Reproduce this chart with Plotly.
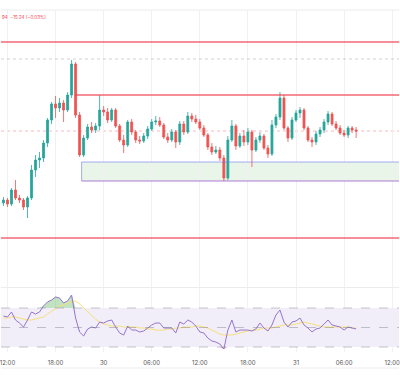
import numpy as np
import pandas as pd
import plotly.graph_objects as go

# ---------------- data ----------------
candle_start = "2024-01-29 11:30"
candle_step = "30min"

opens = [50460, 50490, 50450, 50590, 50510, 50490, 50420, 50510, 50790, 50890, 50910, 51060, 51290, 51450, 51410,
         51460, 51390, 51540, 51850, 51340, 50940, 51110, 51220, 51190, 51230, 51390, 51370, 51290, 51390, 51230,
         51090, 51040, 51270, 51170, 51090, 51080, 51130, 51200, 51270, 51280, 51240, 51120, 51090, 51170, 51070,
         51250, 51170, 51330, 51300, 51270, 51210, 51140, 51020, 50970, 50990, 50910, 50710, 51090, 51230, 51030,
         51130, 51070, 51170, 50990, 51090, 51130, 51010, 50950, 51240, 51320, 51510, 51210, 51110, 51290, 51360,
         51390, 51210, 51090, 51070, 51150, 51190, 51270, 51350, 51250, 51210, 51160, 51140, 51210, 51190]
closes = [50490, 50450, 50590, 50510, 50490, 50420, 50510, 50790, 50890, 50910, 51060, 51290, 51450, 51410, 51460,
          51390, 51540, 51850, 51340, 50940, 51110, 51220, 51190, 51230, 51390, 51370, 51290, 51390, 51230, 51090,
          51040, 51270, 51170, 51090, 51080, 51130, 51200, 51270, 51280, 51240, 51120, 51090, 51170, 51070, 51250,
          51170, 51330, 51300, 51270, 51210, 51140, 51020, 50970, 50990, 50910, 50710, 51090, 51230, 51030, 51130,
          51070, 51170, 50990, 51090, 51130, 51010, 50950, 51240, 51320, 51510, 51210, 51110, 51290, 51360, 51390,
          51210, 51090, 51070, 51150, 51190, 51270, 51350, 51250, 51210, 51160, 51140, 51210, 51190, 51180]
highs = [50520, 50510, 50610, 50690, 50540, 50510, 50530, 50840, 50940, 50970, 51090, 51310, 51470, 51530, 51510,
         51490, 51570, 51890, 51870, 51370, 51140, 51250, 51270, 51260, 51540, 51430, 51410, 51410, 51410, 51250,
         51140, 51290, 51300, 51190, 51130, 51160, 51230, 51300, 51330, 51320, 51260, 51160, 51200, 51190, 51280,
         51280, 51370, 51360, 51340, 51300, 51240, 51160, 51060, 51030, 51020, 50940, 51130, 51290, 51250, 51160,
         51190, 51210, 51190, 51120, 51170, 51150, 51040, 51290, 51350, 51570, 51540, 51230, 51320, 51390, 51420,
         51410, 51230, 51120, 51180, 51220, 51300, 51380, 51370, 51280, 51240, 51190, 51230, 51230, 51220]
lows = [50430, 50420, 50430, 50490, 50460, 50390, 50310, 50490, 50720, 50810, 50870, 51020, 51250, 51310, 51370,
        51270, 51370, 51510, 51310, 50920, 50920, 51090, 51160, 51160, 51190, 51330, 51260, 51270, 51210, 51070,
        50960, 51020, 51140, 51060, 51050, 51060, 51100, 51180, 51240, 51220, 51100, 51060, 51070, 51010, 51040,
        51140, 51150, 51270, 51250, 51190, 51120, 50990, 50940, 50950, 50880, 50680, 50690, 51070, 50990, 51010,
        51030, 51040, 50820, 50970, 51060, 50990, 50910, 50930, 51210, 51290, 51190, 51070, 51090, 51270, 51310,
        51190, 51070, 51020, 51040, 51120, 51160, 51240, 51230, 51190, 51140, 51120, 51110, 51160, 51110]

rsi = [61.8, 60.8, 65.9, 57.7, 54.6, 50.5, 57.7, 65.9, 63.8, 65.9, 72.1, 76.2, 78.2, 81.3, 80.3, 75.1, 77.2, 83.3,
       59.7, 45.4, 41.3, 48.5, 50.5, 49.5, 55.6, 54.6, 56.7, 57.7, 50.5, 44.4, 42.3, 51.5, 47.4, 47.4, 45.4, 46.4,
       49.5, 52.6, 54.6, 54.6, 49.5, 49.5, 49.5, 44.4, 55.6, 53.6, 57.7, 55.6, 51.5, 45.4, 44.4, 39.2, 36.2, 35.1,
       33.1, 27.9, 47.4, 57.7, 45.4, 47.4, 47.4, 47.4, 46.4, 48.5, 54.6, 49.5, 46.4, 52.6, 62.8, 67.9, 55.6, 50.5,
       55.6, 56.7, 59.7, 52.6, 49.5, 45.4, 48.5, 49.5, 53.6, 57.7, 52.6, 51.5, 50.5, 47.4, 50.5, 49.5, 48.5]
rsi_ma = [59.7, 59.7, 60.8, 60.8, 59.7, 58.7, 57.7, 57.7, 58.7, 59.7, 60.8, 63.8, 66.9, 69.0, 72.1, 73.1, 75.1, 76.2,
          77.2, 74.1, 70.0, 65.9, 61.8, 58.7, 55.6, 53.6, 52.6, 51.5, 51.5, 51.5, 50.5, 50.5, 50.5, 50.5, 49.5, 49.5,
          48.5, 48.5, 47.4, 47.4, 47.4, 48.5, 48.5, 49.5, 49.5, 50.5, 50.5, 50.5, 51.5, 51.5, 50.5, 49.5, 47.4, 45.4,
          43.3, 42.3, 42.3, 42.3, 43.3, 44.4, 45.4, 46.4, 47.4, 47.4, 48.5, 49.5, 49.5, 49.5, 50.5, 51.5, 52.6, 52.6,
          52.6, 53.6, 54.6, 55.6, 54.6, 53.6, 52.6, 51.5, 50.5, 50.5, 50.5, 50.5, 50.5, 50.5, 50.5, 49.5, 49.5]

# horizontal levels
red_full_levels = [52070, 50110]
red_resistance = 51540
resistance_start = "2024-01-29 20:30"
dotted_level = 51900
last_price = 51180
zone_low, zone_high = 50680, 50870
zone_start = "2024-01-29 21:15"
rsi_upper, rsi_mid, rsi_lower = 70, 50, 30

tick_vals = ["2024-01-29 12:00", "2024-01-29 18:00", "2024-01-30 00:00", "2024-01-30 06:00", "2024-01-30 12:00",
             "2024-01-30 18:00", "2024-01-31 00:00", "2024-01-31 06:00", "2024-01-31 12:00"]
tick_text = ["12:00", "18:00", "30", "06:00", "12:00", "18:00", "31", "06:00", "12:00"]
header_text = "94  −15.24 (−0.03%)"

x_range = ["2024-01-29 11:11:34", "2024-01-31 12:51:07"]

# ---------------- figure ----------------
times = pd.date_range(candle_start, periods=len(closes), freq=candle_step)
GREEN = "#26a69a"
RED = "#ef5350"

fig = go.Figure()
fig.add_trace(go.Candlestick(
    x=times, open=opens, high=highs, low=lows, close=closes,
    increasing=dict(line=dict(color=GREEN, width=0.8), fillcolor=GREEN),
    decreasing=dict(line=dict(color=RED, width=0.8), fillcolor=RED),
    xaxis="x", yaxis="y", showlegend=False, hoverinfo="skip"))

rsi_arr = np.array(rsi)
fig.add_trace(go.Scatter(x=times, y=[rsi_upper] * len(rsi), mode="lines", line=dict(width=0),
                         xaxis="x2", yaxis="y2", showlegend=False, hoverinfo="skip"))
fig.add_trace(go.Scatter(x=times, y=np.maximum(rsi_arr, rsi_upper), mode="lines", line=dict(width=0),
                         fill="tonexty", fillcolor="rgba(76,175,80,0.35)",
                         xaxis="x2", yaxis="y2", showlegend=False, hoverinfo="skip"))
fig.add_trace(go.Scatter(x=times, y=[rsi_lower] * len(rsi), mode="lines", line=dict(width=0),
                         xaxis="x2", yaxis="y2", showlegend=False, hoverinfo="skip"))
fig.add_trace(go.Scatter(x=times, y=np.minimum(rsi_arr, rsi_lower), mode="lines", line=dict(width=0),
                         fill="tonexty", fillcolor="rgba(242,54,69,0.3)",
                         xaxis="x2", yaxis="y2", showlegend=False, hoverinfo="skip"))
fig.add_trace(go.Scatter(x=times, y=rsi_ma, mode="lines", line=dict(color="#f5df7a", width=1),
                         xaxis="x2", yaxis="y2", showlegend=False, hoverinfo="skip"))
fig.add_trace(go.Scatter(x=times, y=rsi, mode="lines", line=dict(color="#9575cd", width=1),
                         xaxis="x2", yaxis="y2", showlegend=False, hoverinfo="skip"))

shapes = []
for lv in red_full_levels:
    shapes.append(dict(type="line", xref="paper", yref="y", x0=0, x1=1, y0=lv, y1=lv,
                       line=dict(color="rgba(242,54,69,0.75)", width=1.6)))
shapes.append(dict(type="line", xref="x", yref="y", x0=resistance_start, x1=x_range[1],
                   y0=red_resistance, y1=red_resistance, line=dict(color="rgba(242,54,69,0.75)", width=1.6)))
shapes.append(dict(type="line", xref="paper", yref="y", x0=0, x1=1, y0=dotted_level, y1=dotted_level,
                   line=dict(color="rgba(150,150,160,0.45)", width=1, dash="dot")))
shapes.append(dict(type="line", xref="paper", yref="y", x0=0, x1=1, y0=last_price, y1=last_price,
                   line=dict(color="rgba(242,54,69,0.35)", width=1, dash="dot"), layer="below"))
shapes.append(dict(type="rect", xref="x", yref="y", x0=zone_start, x1=x_range[1], y0=zone_low, y1=zone_high,
                   fillcolor="rgba(76,175,80,0.13)", line=dict(width=0), layer="below"))
shapes.append(dict(type="line", xref="x", yref="y", x0=zone_start, x1=x_range[1], y0=zone_high, y1=zone_high,
                   line=dict(color="rgba(100,110,240,0.55)", width=1)))
shapes.append(dict(type="line", xref="x", yref="y", x0=zone_start, x1=zone_start, y0=zone_low, y1=zone_high,
                   line=dict(color="rgba(100,110,240,0.55)", width=1)))
shapes.append(dict(type="line", xref="x", yref="y", x0=zone_start, x1=x_range[1], y0=zone_low, y1=zone_low,
                   line=dict(color="rgba(150,80,200,0.75)", width=1.2)))
shapes.append(dict(type="rect", xref="paper", yref="y2", x0=0, x1=1, y0=rsi_lower, y1=rsi_upper,
                   fillcolor="rgba(126,87,194,0.1)", line=dict(width=0), layer="below"))
for lv in (rsi_upper, rsi_mid, rsi_lower):
    shapes.append(dict(type="line", xref="paper", yref="y2", x0=0, x1=1, y0=lv, y1=lv,
                       line=dict(color="rgba(120,123,134,0.55)", width=0.8, dash="dash")))
for yy in (1 - 10 / 385, 1 - 287.5 / 385, 1 - 368 / 385):
    shapes.append(dict(type="line", xref="paper", yref="paper", x0=0, x1=1, y0=yy, y1=yy,
                       line=dict(color="#ececec", width=1)))

H = 385
main_dom = [1 - 287 / H, 1 - 10 / H]
rsi_dom = [1 - 352 / H, 1 - 288 / H]

fig.update_layout(
    width=400, height=385,
    margin=dict(l=0, r=0, t=0, b=0),
    paper_bgcolor="white", plot_bgcolor="white",
    font=dict(family="Inter, Roboto, sans-serif", color="#555"),
    showlegend=False,
    shapes=shapes,
    xaxis=dict(domain=[0, 1], anchor="y", range=x_range, rangeslider=dict(visible=False),
               showticklabels=False, showgrid=True, gridcolor="#f1f1f3", gridwidth=1,
               tickvals=tick_vals, zeroline=False, showline=False),
    yaxis=dict(domain=main_dom, range=[49620, 52390], showgrid=False, showticklabels=False,
               zeroline=False, fixedrange=True),
    xaxis2=dict(domain=[0, 1], anchor="y2", matches="x", range=x_range,
                tickvals=tick_vals, ticktext=tick_text, showgrid=True, gridcolor="#f1f1f3",
                ticks="outside", ticklen=5, tickcolor="rgba(0,0,0,0)", ticklabeloverflow="allow",
                tickfont=dict(size=6, color="#555"), zeroline=False, showline=False),
    yaxis2=dict(domain=rsi_dom, range=[24.9, 90.5], showgrid=False, showticklabels=False,
                zeroline=False),
    annotations=[dict(xref="paper", yref="paper", x=-0.003, y=1 - 17 / H, xanchor="left", yanchor="middle",
                      text=header_text, showarrow=False, font=dict(size=4.5, color="#f23645"))],
)

fig.write_html("out.html", config={"displayModeBar": False},
               post_script="document.body.style.margin='0';document.body.style.padding='0';")
